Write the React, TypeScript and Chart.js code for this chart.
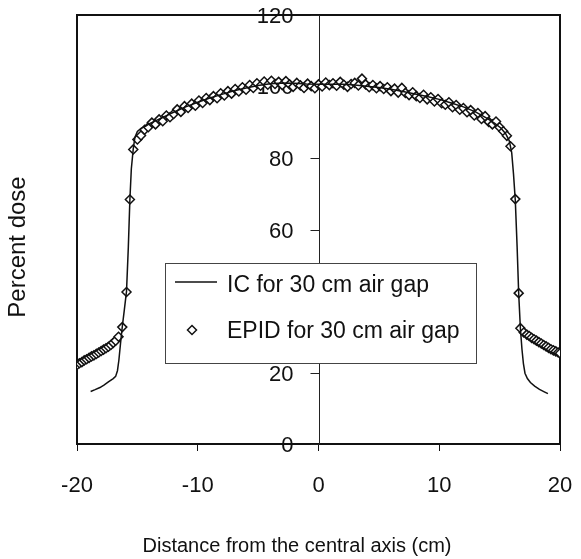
import React, { useEffect, useRef } from 'react';
import { Chart, registerables } from 'chart.js';
Chart.register(...registerables);

const xTicks = [-20, -10, 0, 10, 20];
const yTicks = [0, 20, 40, 60, 80, 100, 120];
const xTitle = 'Distance from the central axis (cm)';
const yTitle = 'Percent dose';
const legendLabels = ['IC for 30 cm air gap', 'EPID for 30 cm air gap'];

// IC measured profile (solid line)
const icX = [
  -18.87, -18.5, -18.1, -17.77, -17.4, -17.0, -16.8, -16.65, -16.53, -16.4, -16.25, -16.08, -15.9, -15.75, -15.62, -15.5,
  -15.34, -15.2, -15.0, -14.7, -14.3, -14.0, -13.5, -13.0, -12.5, -12.0, -11.0, -10.0, -9.0, -8.0, -7.0, -6.0, -5.0, -4.0,
  -3.0, -2.0, -1.0, 0.0, 1.0, 2.0, 3.0, 4.0, 5.0, 6.0, 7.0, 8.0, 9.0, 10.0, 11.0, 12.0, 13.0, 14.0, 14.6, 15.1, 15.5, 15.8,
  16.0, 16.15, 16.3, 16.45, 16.58, 16.72, 16.85, 16.97, 17.1, 17.3, 17.55, 17.9, 18.3, 18.7, 19.0,
];
const icY = [
  14.7, 15.2, 15.8, 16.5, 17.4, 18.3, 18.9, 20.5, 23.5, 28.0, 32.8, 37.5, 42.7, 55.0, 68.4, 77.0,
  82.6, 85.8, 87.4, 88.3, 88.9, 89.6, 90.4, 91.2, 92.0, 92.8, 94.3, 95.6, 96.8, 97.8, 98.8, 99.6, 100.3, 100.8,
  101.0, 100.9, 100.7, 100.6, 100.6, 100.6, 100.4, 100.1, 99.7, 99.2, 98.6, 97.9, 97.2, 96.4, 95.4, 94.3, 92.9, 91.0, 89.7, 88.4, 86.8, 84.8,
  81.5, 75.5, 68.0, 55.0, 42.0, 32.3, 26.5, 22.5, 19.8, 18.3, 17.2, 16.2, 15.3, 14.6, 14.1,
];

// EPID measured points (diamonds)
const epidX = [
  -20.0, -19.8, -19.6, -19.4, -19.2, -19.0, -18.8, -18.6, -18.4, -18.2, -18.0, -17.8, -17.6, -17.4, -17.2, -17.0, -16.8, -16.56,
  -16.25, -15.9, -15.62, -15.34,
  -15.0, -14.7, -14.4, -14.1, -13.8, -13.5, -13.2, -12.9, -12.6, -12.3, -12.0, -11.7, -11.4, -11.1, -10.8, -10.5, -10.2,
  -9.9, -9.6, -9.3, -9.0, -8.7, -8.4, -8.1, -7.8, -7.5, -7.2, -6.9, -6.6, -6.3, -6.0, -5.7, -5.4, -5.1, -4.8, -4.5, -4.2,
  -3.9, -3.6, -3.3, -3.0, -2.7, -2.4, -2.1, -1.8, -1.5, -1.2, -0.9, -0.6, -0.3, 0.0, 0.3, 0.6, 0.9, 1.2, 1.5, 1.8, 2.1,
  2.4, 2.7, 3.0, 3.3, 3.6, 3.9, 4.2, 4.5, 4.8, 5.1, 5.4, 5.7, 6.0, 6.3, 6.6, 6.9, 7.2, 7.5, 7.8, 8.1, 8.4, 8.7, 9.0,
  9.3, 9.6, 9.9, 10.2, 10.5, 10.8, 11.1, 11.4, 11.7, 12.0, 12.3, 12.6, 12.9, 13.2, 13.5, 13.8, 14.1, 14.4, 14.7, 15.0,
  15.3, 15.6,
  15.9, 16.3, 16.58, 16.72,
  17.0, 17.25, 17.45, 17.65, 17.85, 18.05, 18.25, 18.45, 18.65, 18.85, 19.05, 19.25, 19.45, 19.65, 19.85, 20.0,
];
const epidY = [
  22.1, 22.6, 22.9, 23.4, 23.7, 24.1, 24.5, 24.8, 25.2, 25.6, 26.0, 26.4, 26.8, 27.2, 27.7, 28.3, 28.9, 30.0,
  32.7, 42.5, 68.4, 82.4,
  85.2, 86.3, 87.9, 88.6, 89.9, 89.4, 90.8, 90.3, 91.9, 91.4, 92.3, 93.6, 92.9, 94.5, 94.0, 95.2, 94.6,
  96.1, 95.4, 96.8, 96.2, 97.3, 96.7, 98.1, 97.5, 98.7, 98.0, 99.3, 98.6, 99.8, 99.1, 100.4, 99.6, 100.9, 100.2, 101.4, 100.5,
  101.6, 100.7, 101.3, 100.4, 101.5, 100.6, 99.9, 101.0, 100.3, 99.6, 100.8, 100.1, 99.5, 100.6, 100.0, 101.1, 100.4, 100.9, 100.2, 101.3, 100.5,
  99.9, 100.7, 101.0, 100.3, 102.2, 100.6, 99.8, 100.4, 99.5, 100.1, 99.3, 99.8, 98.7, 99.4, 98.3, 99.6, 98.2, 97.6, 98.4, 97.3, 96.8, 97.7, 96.4,
  97.0, 95.8, 96.5, 95.3, 94.9, 95.6, 94.2, 94.8, 93.5, 94.0, 92.8, 93.4, 91.9, 92.6, 90.9, 91.7, 90.1, 89.4, 90.2, 88.6,
  87.5, 86.2,
  83.3, 68.5, 42.2, 32.4,
  31.2, 30.6, 30.2, 29.7, 29.3, 28.9, 28.5, 28.1, 27.7, 27.3, 26.9, 26.5, 26.2, 25.9, 25.6, 25.4,
];

const FONT = "'Liberation Sans', Arial, sans-serif";

export default function App() {
  const ref = useRef<HTMLCanvasElement | null>(null);

  useEffect(() => {
    document.body.style.margin = '0';
    const canvas = ref.current;
    if (!canvas) return;

    const framePlugin = {
      id: 'frame',
      beforeDatasetsDraw(chart: any) {
        const { ctx, chartArea: a } = chart;
        const xs = chart.scales.x;
        const ys = chart.scales.y;
        ctx.save();
        // outer frame
        ctx.strokeStyle = '#111';
        ctx.lineWidth = 2;
        ctx.strokeRect(a.left, a.top, a.right - a.left, a.bottom - a.top);
        // vertical value axis through x = 0
        const x0 = Math.round(xs.getPixelForValue(0)) + 0.5;
        ctx.strokeStyle = '#222';
        ctx.lineWidth = 1;
        ctx.beginPath();
        ctx.moveTo(x0, a.top);
        ctx.lineTo(x0, a.bottom);
        ctx.stroke();
        ctx.fillStyle = '#111';
        ctx.font = `22px ${FONT}`;
        ctx.textAlign = 'right';
        ctx.textBaseline = 'middle';
        yTicks.forEach((v) => {
          const py = Math.round(ys.getPixelForValue(v)) + 0.5;
          ctx.beginPath();
          ctx.moveTo(x0 - 9, py);
          ctx.lineTo(x0, py);
          ctx.stroke();
          ctx.fillText(String(v), x0 - 26, py + 1);
        });
        ctx.restore();
      },
      afterDraw(chart: any) {
        const { ctx } = chart;
        ctx.save();
        // axis titles
        ctx.fillStyle = '#111';
        ctx.font = `20px ${FONT}`;
        ctx.textAlign = 'center';
        ctx.textBaseline = 'alphabetic';
        ctx.fillText(xTitle, 297, 552);
        ctx.save();
        ctx.translate(25, 247);
        ctx.rotate(-Math.PI / 2);
        ctx.font = `24px ${FONT}`;
        ctx.fillText(yTitle, 0, 0);
        ctx.restore();

        // legend box
        const bx = 165, by = 263, bw = 311, bh = 100;
        ctx.fillStyle = '#fff';
        ctx.fillRect(bx, by, bw, bh);
        ctx.strokeStyle = '#444';
        ctx.lineWidth = 1;
        ctx.strokeRect(bx + 0.5, by + 0.5, bw, bh);
        ctx.strokeStyle = '#111';
        ctx.lineWidth = 1.5;
        ctx.beginPath();
        ctx.moveTo(bx + 10, by + 19);
        ctx.lineTo(bx + 52, by + 19);
        ctx.stroke();
        const dx = bx + 27, dy = by + 67, r = 4.5;
        ctx.beginPath();
        ctx.moveTo(dx, dy - r);
        ctx.lineTo(dx + r, dy);
        ctx.lineTo(dx, dy + r);
        ctx.lineTo(dx - r, dy);
        ctx.closePath();
        ctx.fillStyle = '#fff';
        ctx.fill();
        ctx.lineWidth = 1.5;
        ctx.stroke();
        ctx.fillStyle = '#111';
        ctx.font = `23px ${FONT}`;
        ctx.textAlign = 'left';
        ctx.textBaseline = 'alphabetic';
        ctx.fillText(legendLabels[0], bx + 62, by + 29);
        ctx.fillText(legendLabels[1], bx + 62, by + 75);
        ctx.restore();
      },
    };

    const chart = new Chart(canvas, {
      type: 'scatter',
      data: {
        datasets: [
          {
            label: legendLabels[0],
            data: icX.map((x, i) => ({ x, y: icY[i] })),
            showLine: true,
            borderColor: '#111',
            borderWidth: 1.5,
            pointRadius: 0,
            tension: 0,
            fill: false,
          },
          {
            label: legendLabels[1],
            data: epidX.map((x, i) => ({ x, y: epidY[i] })),
            showLine: false,
            pointStyle: 'rectRot',
            pointRadius: 4.5,
            borderColor: '#111',
            backgroundColor: '#fff',
            borderWidth: 1.5,
          },
        ],
      },
      options: {
        responsive: false,
        animation: false,
        devicePixelRatio: 1,
        layout: { padding: { left: 77, right: 21, top: 15, bottom: 0 } },
        plugins: { legend: { display: false }, tooltip: { enabled: false } },
        scales: {
          x: {
            type: 'linear',
            position: 'bottom',
            min: -20,
            max: 20,
            afterBuildTicks: (s: any) => {
              s.ticks = xTicks.map((v) => ({ value: v }));
            },
            afterFit: (s: any) => {
              s.height = 115;
              s.paddingLeft = 0;
              s.paddingRight = 0;
            },
            grid: { drawOnChartArea: false, drawTicks: true, tickLength: 7, color: '#111', lineWidth: 1 },
            border: { display: true, color: '#111', width: 2 },
            ticks: { color: '#111', font: { family: FONT, size: 22 }, padding: 22, maxRotation: 0 },
          },
          y: {
            type: 'linear',
            display: false,
            min: 0,
            max: 120,
          },
        },
      },
      plugins: [framePlugin],
    });

    return () => chart.destroy();
  }, []);

  return <canvas ref={ref} width={581} height={559} style={{ display: 'block', width: 581, height: 559 }} />;
}
